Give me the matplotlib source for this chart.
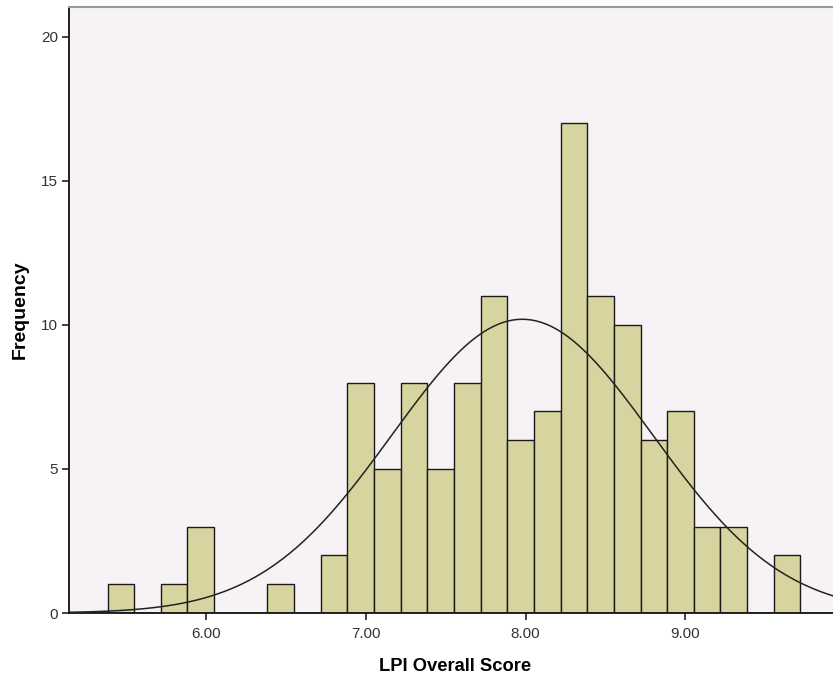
import numpy as np
import matplotlib.pyplot as plt

plt.rcParams["font.family"] = ["Liberation Sans", "DejaVu Sans"]

# histogram bins (width 1/6) and counts
bin_start = 5.386
bin_width = 1.0 / 6.0
counts = [1, 0, 1, 3, 0, 0, 1, 0, 2, 8, 5, 8, 5, 8, 11, 6, 7, 17, 11, 10, 6, 7, 3, 3, 0, 2]

# normal curve parameters
mean = 7.98
sd = 0.815
n_total = sum(counts)

xticks = [6.0, 7.0, 8.0, 9.0]
yticks = [0, 5, 10, 15, 20]

edges = bin_start + bin_width * np.arange(len(counts) + 1)

fig = plt.figure(figsize=(8.33, 6.79), dpi=100)
ax = fig.add_axes([0.0828, 0.0972, 0.9172 + 0.01, 0.8925])
ax.set_facecolor("#F6F2F6")

ax.bar(edges[:-1], counts, width=bin_width, align="edge",
       color="#D8D4A0", edgecolor="#1a1a1a", linewidth=1.0, zorder=2)

xs = np.linspace(5.14, 10.0, 400)
ys = n_total * bin_width / (sd * np.sqrt(2 * np.pi)) * np.exp(-0.5 * ((xs - mean) / sd) ** 2)
ax.plot(xs, ys, color="#222222", linewidth=1.1, zorder=3)

ax.set_xlim(5.145, 9.975)
ax.set_ylim(0, 21.04)
ax.set_xticks(xticks)
ax.set_xticklabels(["%.2f" % t for t in xticks])
ax.set_yticks(yticks)

ax.tick_params(direction="out", length=5, width=1.2, colors="#222222",
               labelsize=11, labelcolor="#333333", pad=3)
ax.tick_params(axis="x", pad=5)
ax.spines["left"].set_color("#111111")
ax.spines["bottom"].set_color("#111111")
ax.spines["left"].set_linewidth(1.3)
ax.spines["bottom"].set_linewidth(1.3)
ax.spines["top"].set_color("#999999")
ax.spines["top"].set_linewidth(1.5)
ax.spines["right"].set_visible(False)

ax.set_xlabel("LPI Overall Score", fontsize=13.2, fontweight="bold", labelpad=12)
ax.set_ylabel("Frequency", fontsize=14, fontweight="bold", labelpad=9)

fig.savefig("out.png", dpi=100)
